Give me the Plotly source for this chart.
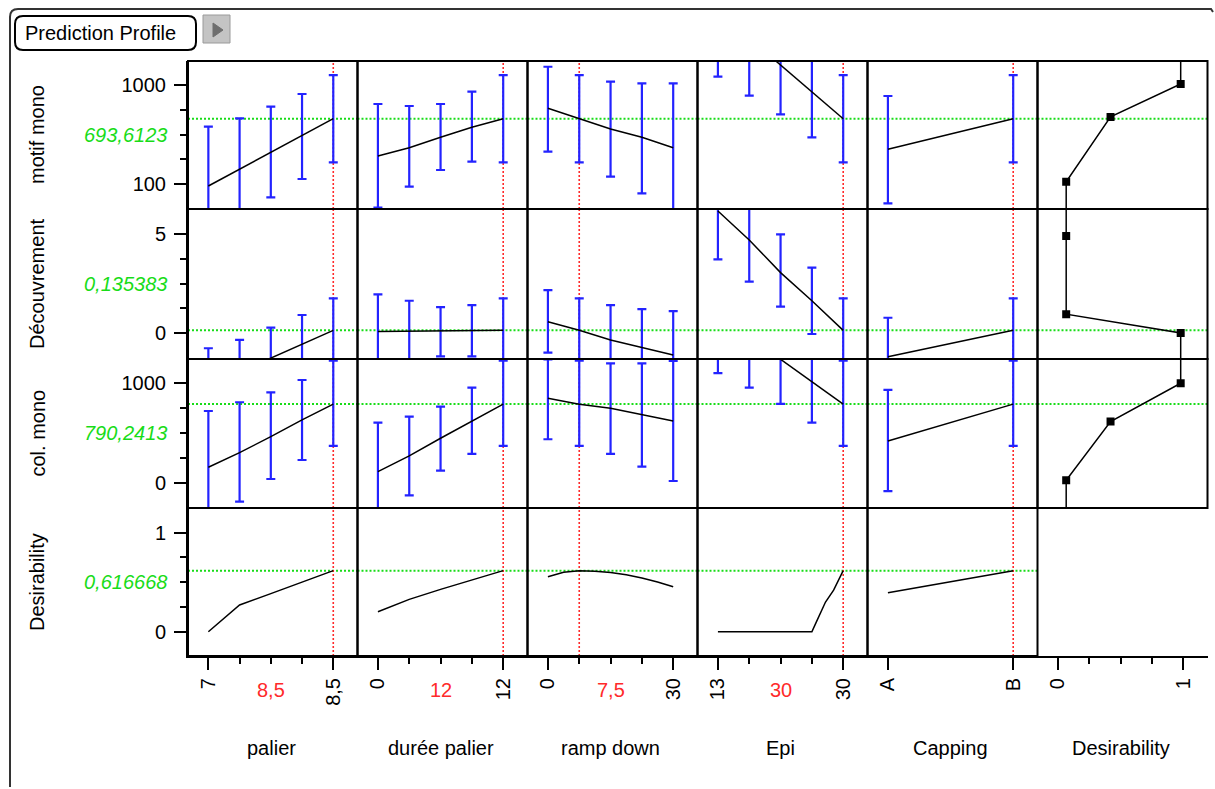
import plotly.graph_objects as go

W, H = 1215, 789

# ---------------- data ----------------
factor_names = ["palier", "durée palier", "ramp down", "Epi", "Capping", "Desirability"]
response_names = ["motif mono", "Découvrement", "col. mono", "Desirability"]

palier_x = [7, 7.375, 7.75, 8.125, 8.5]
duree_x = [0, 3, 6, 9, 12]
ramp_x = [0, 7.5, 15, 22.5, 30]
epi_x = [13, 17.25, 21.5, 25.75, 30]
capping_x = ["A", "B"]
desir_x = [0, 0.25, 0.5, 0.75, 1]

x_tick_labels = [["7", "8,5"], ["0", "12"], ["0", "30"], ["13", "30"], ["A", "B"], ["0", "1"]]
current_factor = [8.5, 12, 7.5, 30, "B"]
current_factor_label = ["8,5", "12", "7,5", "30", ""]

current_response = [693.6123, 0.135383, 790.2413, 0.616668]
current_response_label = ["693,6123", "0,135383", "790,2413", "0,616668"]

# y axis ticks per response (major labelled, minor unlabelled)
y_major = [[100, 1000], [0, 5], [0, 1000], [0, 1]]
y_major_text = [["100", "1000"], ["0", "5"], ["0", "1000"], ["0", "1"]]
y_minor = [[325, 550, 775], [1.25, 2.5, 3.75], [250, 500, 750], [0.25, 0.5, 0.75]]
y_ranges = [[-127.3, 1218.2], [-1.313, 6.263], [-254.5, 1244], [-0.245, 1.2495]]

# motif mono : prediction, lower and upper confidence limit (per factor)
motif_fit = [[81.6, 234.6, 387.6, 540.6, 693.6], [354.5, 430, 524.5, 615.5, 693.6],
             [788, 693.6, 600, 524.5, 430], [1670, 1426, 1182, 939, 693.6], [415.5, 693.6]]
motif_low = [[-458, -228, -21, 145.5, 296], [-115.4, 75.5, 227.3, 302.7, 296],
             [393.6, 296, 166.4, 15.5, -155.5], [1075.5, 902.7, 733.6, 524.5, 296], [-75.5, 296]]
motif_high = [[620.9, 697, 802.7, 918.2, 1090], [827.3, 809, 827.3, 939, 1090],
              [1166, 1090, 1030, 1015.5, 1015.5], [2265, 1949, 1630, 1354, 1090], [900, 1090]]

# Découvrement
decouv_fit = [[-2.67, -1.97, -1.27, -0.57, 0.135], [0.07, 0.08, 0.09, 0.115, 0.135],
              [0.57, 0.135, -0.35, -0.74, -1.11], [6.16, 4.70, 3.05, 1.63, 0.135], [-1.2, 0.135]]
decouv_low = [[-4.57, -3.59, -2.81, -2.05, -1.48], [-1.81, -1.47, -1.18, -1.18, -1.48],
              [-0.99, -1.48, -2.11, -2.69, -3.33], [3.72, 2.59, 1.33, -0.05, -1.48], [-3.17, -1.48]]
decouv_high = [[-0.77, -0.35, 0.27, 0.91, 1.75], [1.95, 1.63, 1.31, 1.41, 1.75],
               [2.17, 1.75, 1.41, 1.21, 1.11], [8.6, 6.8, 4.98, 3.30, 1.75], [0.77, 1.75]]

# col. mono
col_fit = [[155, 302, 463, 631, 790], [111, 269, 447, 621, 790],
           [849, 790, 749, 688, 621], [1692, 1467, 1241, 1016, 790], [419, 790]]
col_low = [[-411, -191, 37, 228, 370], [-382, -127, 121, 289, 370],
           [437, 370, 289, 161, 17], [1101, 956, 792, 604, 370], [-84, 370]]
col_high = [[721, 809, 909, 1033, 1227], [604, 664, 765, 956, 1227],
            [1241, 1227, 1201, 1201, 1225], [2283, 1978, 1690, 1428, 1227], [933, 1227]]

# overall desirability traces (factor value, desirability)
desir_palier_x = [7, 7.375, 7.75, 8.125, 8.5]
desir_palier = [0.0, 0.27, 0.385, 0.505, 0.617]
desir_duree_x = [0, 3, 6, 9, 12]
desir_duree = [0.202, 0.327, 0.428, 0.522, 0.617]
desir_ramp_x = [0, 3.75, 7.5, 11.25, 15, 18.75, 22.5, 26.25, 30]
desir_ramp = [0.555, 0.600, 0.617, 0.612, 0.598, 0.575, 0.543, 0.503, 0.455]
desir_epi_x = [13, 17.25, 21.5, 25.75, 26.3, 27.6, 28.7, 30]
desir_epi = [0, 0, 0, 0, 0.09, 0.30, 0.42, 0.617]
desir_capping_x = ["A", "B"]
desir_capping = [0.394, 0.617]

# desirability functions (desirability, response value) at the three handles
dfun_motif_d = [0.066, 0.42, 0.98]
dfun_motif_y = [120, 710, 1010]
dfun_decouv_d = [0.066, 0.066, 0.98]
dfun_decouv_y = [4.9, 0.95, 0.0]
dfun_col_d = [0.066, 0.42, 0.98]
dfun_col_y = [25, 615, 1000]

# ---------------- styling / layout ----------------
FONT = "Liberation Sans, Arial, sans-serif"
BLUE = "#2323ff"
GREEN = "#18dc18"
RED = "#ff2a2a"

col_px = [188, 357.5, 527.5, 697.5, 867.5, 1037.5, 1207.5]
row_px = [61, 209, 359, 508, 656]

col_ticks = [palier_x, duree_x, ramp_x, epi_x, [0, 1], desir_x]


def xpos(c, vals):
    if c == 4:
        return [capping_x.index(v) for v in vals]
    return list(vals)


def xrange_of(c):
    t = col_ticks[c]
    a, b = t[0], t[-1]
    return [a - 0.163 * (b - a), b + 0.194 * (b - a)]


def xa(c):
    return "x" if c == 0 else f"x{c + 1}"


def ya(r):
    return "y" if r == 0 else f"y{r + 1}"


fig = go.Figure()

fits = [motif_fit, decouv_fit, col_fit]
lows = [motif_low, decouv_low, col_low]
highs = [motif_high, decouv_high, col_high]
desir_traces = [(desir_palier_x, desir_palier), (desir_duree_x, desir_duree),
                (desir_ramp_x, desir_ramp), (desir_epi_x, desir_epi),
                (desir_capping_x, desir_capping)]
dfuns = [(dfun_motif_d, dfun_motif_y), (dfun_decouv_d, dfun_decouv_y), (dfun_col_d, dfun_col_y)]

# green current-response lines
for r in range(4):
    ncols = 6 if r < 3 else 5
    for c in range(ncols):
        fig.add_trace(go.Scatter(x=xrange_of(c), y=[current_response[r]] * 2, mode="lines",
                                 line=dict(color=GREEN, width=2, dash="2px,2px"),
                                 xaxis=xa(c), yaxis=ya(r), hoverinfo="skip", showlegend=False))

# red current-factor lines
for r in range(4):
    for c in range(5):
        xv = xpos(c, [current_factor[c]])[0]
        fig.add_trace(go.Scatter(x=[xv, xv], y=y_ranges[r], mode="lines",
                                 line=dict(color=RED, width=1.6, dash="2px,2px"),
                                 xaxis=xa(c), yaxis=ya(r), hoverinfo="skip", showlegend=False))

# response profiles with confidence bars
for r in range(3):
    for c in range(5):
        xs = xpos(c, col_ticks[c]) if c != 4 else xpos(4, capping_x)
        fit = fits[r][c]
        up = [h - f for h, f in zip(highs[r][c], fit)]
        dn = [f - l for f, l in zip(fit, lows[r][c])]
        fig.add_trace(go.Scatter(x=xs, y=fit, mode="markers", marker=dict(size=1, opacity=0),
                                 error_y=dict(type="data", array=up, arrayminus=dn, symmetric=False,
                                              color=BLUE, thickness=2.2, width=4.5),
                                 xaxis=xa(c), yaxis=ya(r), hoverinfo="skip", showlegend=False))
        fig.add_trace(go.Scatter(x=xs, y=fit, mode="lines", line=dict(color="black", width=1.5),
                                 xaxis=xa(c), yaxis=ya(r), hoverinfo="skip", showlegend=False))

# overall desirability profiles
for c in range(5):
    dx, dy = desir_traces[c]
    fig.add_trace(go.Scatter(x=xpos(c, dx), y=dy, mode="lines", line=dict(color="black", width=1.5),
                             xaxis=xa(c), yaxis=ya(3), hoverinfo="skip", showlegend=False))

# desirability functions (last column)
for r in range(3):
    d, yv = dfuns[r]
    lo, hi = y_ranges[r]
    xs = [d[0]] + d + [d[-1]]
    if yv[0] < yv[-1]:
        ys = [lo] + yv + [hi]
    else:
        ys = [hi] + yv + [lo]
    fig.add_trace(go.Scatter(x=xs, y=ys, mode="lines", line=dict(color="black", width=1.5),
                             xaxis="x6", yaxis=ya(r), hoverinfo="skip", showlegend=False))
    fig.add_trace(go.Scatter(x=d, y=yv, mode="markers",
                             marker=dict(symbol="square", size=8, color="black"),
                             xaxis="x6", yaxis=ya(r), hoverinfo="skip", showlegend=False))

# empty cell so the last x axis is drawn at the bottom
fig.add_trace(go.Scatter(x=[None], y=[None], xaxis="x6", yaxis="y4", showlegend=False, hoverinfo="skip"))

layout = dict(width=W, height=H, margin=dict(l=0, r=0, t=0, b=0),
              paper_bgcolor="white", plot_bgcolor="rgba(0,0,0,0)", showlegend=False,
              font=dict(family=FONT, size=20, color="black"))

axis_common = dict(ticks="outside", ticklen=12, tickwidth=1.5, tickcolor="black",
                   showline=True, linewidth=2, linecolor="black", showgrid=False, zeroline=False,
                   fixedrange=True, tickfont=dict(family=FONT, size=20, color="black"))

for c in range(6):
    t = col_ticks[c]
    name = "xaxis" if c == 0 else f"xaxis{c + 1}"
    layout[name] = dict(domain=[col_px[c] / W, col_px[c + 1] / W], anchor="y4",
                        range=xrange_of(c), tickmode="array", tickvals=[t[0], t[-1]],
                        ticktext=x_tick_labels[c], tickangle=-90,
                        minor=dict(tickvals=list(t[1:-1]), ticks="outside", ticklen=6,
                                   tickwidth=1.5, tickcolor="black", showgrid=False),
                        **axis_common)

for r in range(4):
    name = "yaxis" if r == 0 else f"yaxis{r + 1}"
    layout[name] = dict(domain=[1 - row_px[r + 1] / H, 1 - row_px[r] / H], anchor="x",
                        range=y_ranges[r], tickmode="array", tickvals=y_major[r],
                        ticktext=y_major_text[r], ticklabelstandoff=4,
                        minor=dict(tickvals=y_minor[r], ticks="outside", ticklen=6,
                                   tickwidth=1.5, tickcolor="black", showgrid=False),
                        **axis_common)

shapes = []
for r in range(4):
    for c in range(6):
        if r == 3 and c == 5:
            continue
        shapes.append(dict(type="rect", xref=f"{xa(c)} domain", yref=f"{ya(r)} domain",
                           x0=0, x1=1, y0=0, y1=1, line=dict(color="black", width=2),
                           fillcolor="rgba(0,0,0,0)", layer="above"))


def px(x):
    return x / W


def py(y):
    return 1 - y / H


# outer frame (left + top, rounded corner)
frame_path = (f"M {px(10)} {py(787)} L {px(10)} {py(17)} Q {px(10)} {py(9)} {px(18)} {py(9)} "
              f"L {px(1211)} {py(9)} L {px(1213)} {py(12)}")
shapes.append(dict(type="path", xref="paper", yref="paper", path=frame_path,
                   line=dict(color="#333333", width=2)))
# "Prediction Profile" outline button
r_ = 8
bx0, by0, bx1, by1 = 15, 16, 196, 50
btn = (f"M {px(bx0 + r_)} {py(by0)} L {px(bx1 - r_)} {py(by0)} Q {px(bx1)} {py(by0)} {px(bx1)} {py(by0 + r_)} "
       f"L {px(bx1)} {py(by1 - r_)} Q {px(bx1)} {py(by1)} {px(bx1 - r_)} {py(by1)} "
       f"L {px(bx0 + r_)} {py(by1)} Q {px(bx0)} {py(by1)} {px(bx0)} {py(by1 - r_)} "
       f"L {px(bx0)} {py(by0 + r_)} Q {px(bx0)} {py(by0)} {px(bx0 + r_)} {py(by0)} Z")
shapes.append(dict(type="path", xref="paper", yref="paper", path=btn,
                   line=dict(color="black", width=2)))
# grey disclosure button
shapes.append(dict(type="rect", xref="paper", yref="paper", x0=px(203), x1=px(230), y0=py(43), y1=py(15),
                   fillcolor="#c4c4c4", line=dict(color="#9a9a9a", width=1)))
tri = f"M {px(213)} {py(23)} L {px(223)} {py(30)} L {px(213)} {py(37)} Z"
shapes.append(dict(type="path", xref="paper", yref="paper", path=tri,
                   fillcolor="#6e6e6e", line=dict(color="#6e6e6e", width=1)))
layout["shapes"] = shapes

ann = []
ann.append(dict(text="Prediction Profile", xref="paper", yref="paper", x=px(101), y=py(33),
                xanchor="center", yanchor="middle", showarrow=False,
                font=dict(family=FONT, size=20, color="black")))
# response titles
for r in range(4):
    ann.append(dict(text=response_names[r], xref="paper", yref=f"{ya(r)} domain", x=px(37), y=0.5,
                    xanchor="center", yanchor="middle", textangle=-90, showarrow=False,
                    font=dict(family=FONT, size=20, color="black")))
    ann.append(dict(text=f"<i>{current_response_label[r]}</i>", xref="paper", yref=ya(r),
                    x=px(169), y=y_minor[r][1], xanchor="right", yanchor="middle", showarrow=False,
                    font=dict(family=FONT, size=20, color=GREEN)))
# factor titles and current values
for c in range(6):
    ann.append(dict(text=factor_names[c], xref=f"{xa(c)} domain", yref="paper", x=0.49, y=py(748),
                    xanchor="center", yanchor="middle", showarrow=False,
                    font=dict(family=FONT, size=20, color="black")))
for c in range(5):
    if current_factor_label[c]:
        ann.append(dict(text=current_factor_label[c], xref=f"{xa(c)} domain", yref="paper", x=0.49,
                        y=py(690), xanchor="center", yanchor="middle", showarrow=False,
                        font=dict(family=FONT, size=20, color=RED)))
layout["annotations"] = ann

fig.update_layout(**layout)

fig.write_html("out.html", include_plotlyjs=True, full_html=True,
               config={"displayModeBar": False, "staticPlot": False},
               post_script="document.body.style.margin='0';document.body.style.overflow='hidden';")
